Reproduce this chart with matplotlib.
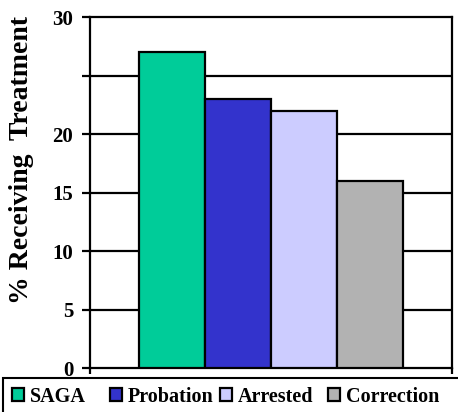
import matplotlib
matplotlib.use("Agg")
import matplotlib.pyplot as plt
from matplotlib.patches import Rectangle

# Share of each group receiving treatment (%)
groups = ["SAGA", "Probation", "Arrested", "Correction"]
values = [27.0, 23.0, 22.0, 16.0]
colors = ["#00CC99", "#3333CC", "#CCCCFF", "#B2B2B2"]
ytick_values = [0, 5, 10, 15, 20, 25, 30]
ytick_labels = ["0", "5", "10", "15", "20", "", "30"]

plt.rcParams["font.family"] = ["Liberation Serif", "DejaVu Serif"]
plt.rcParams["font.weight"] = "bold"

W, H = 458, 412
fig = plt.figure(figsize=(W / 100, H / 100), dpi=100)
ax = fig.add_axes([90 / W, 1 - 368 / H, 362 / W, 351 / H])

bars = []
for i, (g, v, c) in enumerate(zip(groups, values, colors)):
    b = ax.bar(i, v, width=1.0, color=c, edgecolor="black", linewidth=1.6,
               label=g, zorder=3)
    bars.append(b)

ax.set_xlim(-1.24, 4.24)
ax.set_ylim(0, 30)
ax.set_yticks(ytick_values)
ax.set_yticklabels(ytick_labels, fontsize=15, fontweight="bold")
ax.set_xticks([-1.24, 4.24])
ax.set_xticklabels([])
ax.tick_params(axis="y", direction="out", length=6, width=1.6, pad=6)
ax.tick_params(axis="x", direction="out", length=4, width=1.6)

for y in ytick_values[1:-1]:
    ax.axhline(y, color="black", linewidth=1.6, zorder=1)

for s in ax.spines.values():
    s.set_linewidth(1.6)
    s.set_color("black")

fig.text(22 / W, 1 - 160 / H, "% Receiving  Treatment", rotation=90,
         ha="center", va="center", fontsize=20, fontweight="bold")

# Legend entries laid out along the bottom strip
entry_x = [12, 110, 220, 328]
for b, g, x in zip(bars, groups, entry_x):
    fig.legend(handles=[b], labels=[g], loc="center left",
               bbox_to_anchor=(x / W, 1 - 397 / H), frameon=False,
               handlelength=0.62, handleheight=0.62, handletextpad=0.25,
               borderaxespad=0, borderpad=0,
               prop={"family": "Liberation Serif", "weight": "bold", "size": 14.5})

fig.patches.append(Rectangle((3 / W, -0.1), 1.2, 1 - 378 / H + 0.1,
                             transform=fig.transFigure, fill=False,
                             edgecolor="black", linewidth=1.5))

fig.savefig("out.png", dpi=100)
